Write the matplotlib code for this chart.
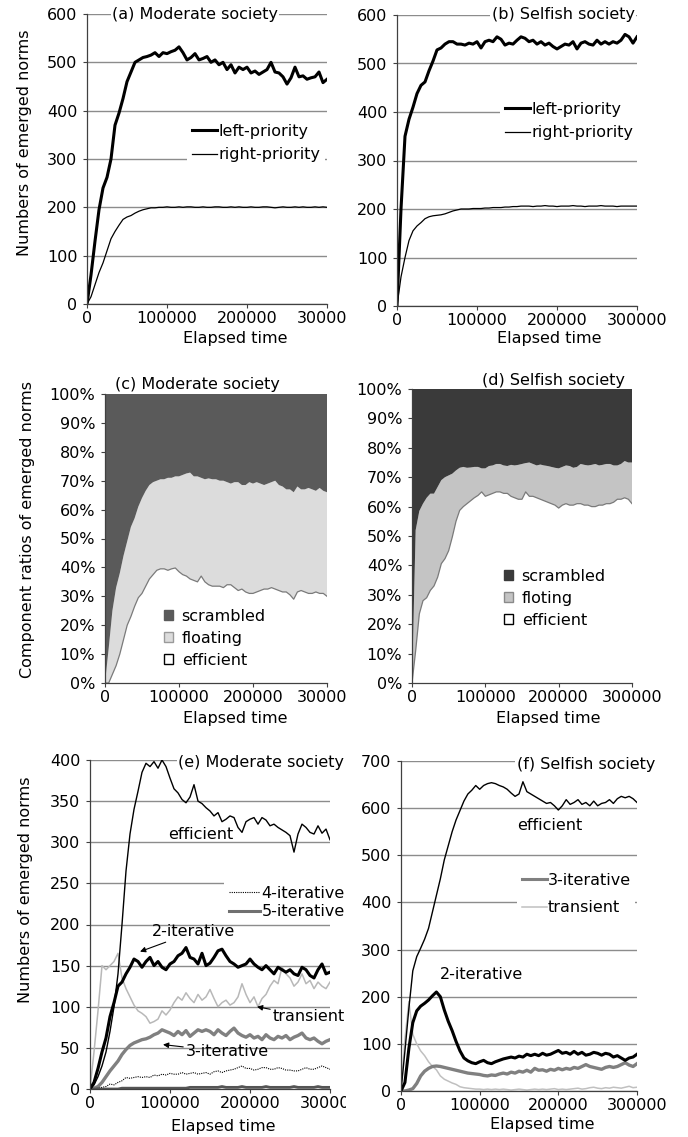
import numpy as np
import matplotlib
matplotlib.use("Agg")
import matplotlib.pyplot as plt
from matplotlib.lines import Line2D
from matplotlib.patches import Patch, Rectangle

plt.rcParams["font.family"] = ["DejaVu Sans"]
plt.rcParams["font.size"] = 11.5

W, H = 688, 1137

# время моделирования, шаг 5000
time = np.arange(0, 300001, 5000)
xticks = [0, 100000, 200000, 300000]

# (a) Moderate society
a_left = [0, 60, 130, 195, 240, 262, 300, 370, 395, 425,
          460, 480, 500, 505, 510, 512, 515, 520, 512, 520,
          518, 522, 525, 532, 520, 505, 510, 518, 505, 508,
          512, 500, 505, 495, 500, 485, 495, 478, 490, 485,
          490, 478, 482, 475, 480, 485, 500, 480, 478, 470,
          455, 468, 490, 470, 472, 465, 468, 470, 480, 458, 465]
a_right = [0, 15, 40, 65, 85, 110, 135, 150, 163, 175,
           180, 183, 188, 192, 195, 197, 199, 199, 200,
           200, 201, 200, 200, 201, 200, 201, 201, 200, 200,
           201, 200, 200, 201, 201, 200, 200, 201, 200, 201,
           200, 200, 201, 200, 200, 201, 201, 200, 199, 200,
           201, 200, 200, 201, 200, 201, 200, 200, 201, 200, 201, 200]

# (b) Selfish society
b_left = [0, 200, 350, 385, 410, 438, 455, 462, 485, 505,
          528, 532, 540, 545, 545, 540, 540, 538, 542, 540,
          545, 532, 545, 548, 545, 555, 550, 538, 542, 540,
          548, 555, 552, 545, 548, 540, 545, 538, 542, 535,
          530, 535, 540, 538, 545, 530, 542, 545, 540, 538,
          548, 540, 545, 540, 545, 542, 548, 560, 555, 542, 555]
b_right = [0, 60, 100, 135, 155, 165, 172, 180, 184, 186,
           187, 188, 190, 193, 196, 198, 200, 200, 200, 201,
           201, 201, 202, 202, 203, 203, 203, 204, 204, 205,
           205, 206, 206,
           206, 205, 206, 206, 207, 206, 206, 205, 206, 206,
           206, 207, 206, 206, 205, 206, 206, 206, 207, 206,
           206, 206, 205, 206, 206, 206, 206, 206]

# (c) Moderate society, доли в %
c_eff = [0, 0, 3, 6, 10, 15, 20, 23, 26.5, 29.5,
         31, 33.5, 36, 37.5, 39, 39.5, 39.5, 39, 39.5, 39.8,
         38.5, 37.5, 37, 36, 35.5, 35, 37, 35, 34, 33.5,
         33.5, 33.5, 33, 34, 34, 33, 32, 32.5, 31.5, 31,
         31, 31.5, 32, 32.5, 32.5, 33, 32.5, 32, 31.5, 31.5,
         30.5, 29, 31.5, 32, 31.5, 31, 31, 31.5, 31, 31, 30]
c_flo = [0, 12, 22, 27, 28, 29, 29, 31, 30.5, 31.5,
         33, 33, 32.5, 32, 31, 31, 31, 32, 31.5, 31.7,
         33, 34.5, 35.5, 36.8, 36, 36.5, 34, 35.5, 36.8, 37,
         37, 36.5, 37, 35.5, 35, 36.5, 37.5, 36, 37, 38.5,
         38, 38, 37, 36, 36.5, 36.5, 37.5, 36.5, 36.5, 35.5,
         36.5, 37, 36.5, 35, 35.5, 36.5, 36, 35, 36.5, 35.5, 36]

# (d) Selfish society, доли в %
d_eff = [0, 11, 23.5, 28, 29, 31.5, 33, 36, 40.6, 42.3,
         45, 49.7, 55, 58.7, 60, 61, 62, 63, 63.8, 65,
         63.5, 64, 64.5, 65, 65, 64.5, 64.5, 63.5, 63, 62.5,
         62.5, 65, 63.5, 63.5, 63, 62.5, 62, 61.5, 61, 60.5,
         59.5, 60.5, 61, 60.5, 60.5, 61, 61, 60.5, 60.5, 60,
         60, 60.5, 60.5, 61, 61, 61.5, 62.5, 62.5, 63, 62.5, 61]
d_flo = [0, 41, 35, 33, 34, 32.9, 31.4, 30.7, 28.4, 27.7,
         25.6, 21.5, 17.3, 14.5, 13.5, 12.2, 11.3, 10.5, 9.7, 8,
         9.5, 9.8, 9.5, 9.5, 9.5, 9.5, 9.3, 10.7, 11, 11.7,
         12, 9.8, 11.5, 11, 11, 11.8, 12, 12.3, 12.5, 12.7,
         13.5, 13, 13, 13.3, 12.7, 12.5, 13.5, 13.7, 13.5, 14.2,
         14.5, 13.5, 13.7, 13.5, 13.5, 12.5, 11.5, 12, 12.5, 12.5, 14]

# (e) Moderate society, по типам норм
e_eff = [0, 5, 15, 28, 45, 70, 100, 140, 200, 265,
         310, 340, 362, 385, 396, 392, 398, 390, 400, 392,
         378, 365, 360, 352, 348, 355, 370, 350, 347, 342,
         338, 332, 336, 325, 328, 332, 330, 318, 312, 325,
         328, 330, 322, 330, 327, 320, 322, 318, 315, 312,
         308, 288, 310, 322, 318, 312, 310, 320, 311, 316, 303]
e_two = [0, 8, 25, 45, 62, 88, 105, 125, 130, 140,
         148, 158, 155, 148, 155, 160, 150, 155, 148, 145,
         152, 155, 162, 165, 172, 160, 158, 152, 165, 150,
         153, 160, 168, 170, 162, 155, 152, 148, 150, 152,
         158, 152, 148, 145, 150, 145, 140, 148, 145, 142,
         145, 140, 138, 148, 145, 138, 135, 145, 152, 140, 142]
e_tran = [0, 45, 95, 150, 145, 150, 155, 165, 135, 122,
          112, 102, 95, 92, 88, 80, 82, 85, 95, 90,
          96, 105, 112, 108, 117, 110, 105, 115, 108, 112,
          121, 110, 100, 105, 108, 102, 105, 112, 128, 115,
          105, 112, 100, 110, 115, 125, 132, 128, 148, 140,
          135, 125, 130, 140, 128, 132, 122, 130, 125, 122, 130]
e_three = [0, 1, 3, 8, 15, 22, 28, 34, 42, 48,
           53, 56, 58, 60, 61, 63, 66, 68, 72, 70,
           68, 65, 70, 66, 71, 64, 68, 72, 70, 72,
           70, 66, 72, 68, 65, 70, 74, 68, 65, 63,
           66, 62, 64, 60, 66, 62, 60, 64, 62, 65,
           60, 63, 65, 68, 62, 60, 62, 58, 55, 58, 60]
e_four = [0, 0, 1, 2, 3, 6, 5, 8, 10, 14,
          13, 14, 15, 14, 15, 14, 17, 16, 18, 17,
          19, 18, 18, 20, 18, 19, 20, 18, 19, 20,
          18, 21, 22, 20, 22, 23, 24, 26, 28, 25,
          25, 23, 24, 26, 26, 24, 24, 26, 25, 23,
          23, 22, 22, 24, 26, 24, 24, 26, 28, 26, 24]
e_five = [0, 0, 0, 0, 0, 0, 0, 0, 1, 1,
          1, 1, 1, 1, 1, 1, 1, 1, 1, 1,
          1, 1, 1, 1, 1, 2, 2, 2, 2, 2,
          2, 2, 2, 3, 2, 2, 2, 2, 3, 2,
          2, 2, 2, 2, 3, 2, 2, 2, 2, 2,
          2, 3, 2, 2, 2, 2, 2, 3, 2, 2, 2]

# (f) Selfish society, по типам норм
f_eff = [0, 85, 175, 255, 285, 303, 322, 345, 380, 415,
         450, 490, 520, 550, 575, 595, 615, 630, 638, 648,
         640, 648, 652, 654, 652, 648, 645, 640, 632, 625,
         630, 656, 635, 630, 625, 620, 615, 610, 612, 605,
         596, 605, 618, 608, 612, 618, 608, 612, 605, 615,
         605, 610, 612, 618, 610, 620, 625, 622, 625, 620, 612]
f_two = [0, 18, 90, 145, 170, 180, 186, 193, 202, 210,
         200, 172, 148, 128, 105, 85, 70, 64, 60, 58,
         62, 65, 60, 58, 62, 65, 68, 70, 72, 70,
         74, 72, 78, 75, 78, 75, 80, 76, 78, 82,
         86, 80, 82, 78, 84, 78, 82, 76, 78, 82,
         80, 76, 80, 78, 72, 75, 70, 65, 70, 72, 78]
f_tran = [0, 110, 190, 120, 100, 85, 75, 62, 52, 45,
          32, 25, 21, 17, 14, 9, 7, 6, 5, 4,
          4, 3, 4, 3, 4, 3, 4, 3, 2, 3,
          4, 3, 2, 3, 4, 3, 4, 3, 4, 5,
          3, 4, 3, 4, 5, 6, 4, 5, 7, 8,
          6, 5, 7, 6, 8, 7, 6, 8, 10, 7, 8]
f_three = [0, 0, 2, 5, 16, 32, 42, 48, 52, 53,
           52, 50, 48, 46, 44, 42, 40, 38, 37, 36,
           35, 33, 32, 34, 33, 36, 38, 36, 40, 38,
           42, 40, 44, 40, 48, 44, 45, 42, 46, 44,
           48, 45, 48, 46, 50, 48, 52, 56, 52, 50,
           48, 46, 50, 52, 50, 52, 56, 60, 55, 52, 58]

for s in [a_left, a_right, b_left, b_right, c_eff, c_flo, d_eff, d_flo,
          e_eff, e_two, e_tran, e_three, e_four, e_five,
          f_eff, f_two, f_tran, f_three]:
    assert len(s) == len(time), len(s)

AX_COL = "#404040"
GRID_COL = "#8c8c8c"


def box(l, t, r, b):
    return [l / W, 1 - b / H, (r - l) / W, (b - t) / H]


def fpt(x, y):
    return (x / W, 1 - y / H)


def setup(ax, ymax, ystep, pct=False, grid=True):
    ax.set_xlim(0, 300000)
    ax.set_ylim(0, ymax)
    ax.set_xticks(xticks)
    ax.set_xticklabels([str(v) for v in xticks])
    yt = list(range(0, ymax + 1, ystep))
    ax.set_yticks(yt)
    ax.set_yticklabels([f"{v}%" if pct else str(v) for v in yt])
    for side in ["top", "right"]:
        ax.spines[side].set_visible(False)
    for side in ["left", "bottom"]:
        ax.spines[side].set_color(AX_COL)
        ax.spines[side].set_linewidth(0.9)
    ax.tick_params(direction="out", length=3, width=0.8, color=AX_COL, labelsize=11.5)
    ax.tick_params(axis="x", pad=2)
    ax.tick_params(axis="y", pad=4)
    if grid:
        ax.yaxis.grid(True, color=GRID_COL, lw=1.0)
        ax.set_axisbelow(True)


def title(text, x, y, white=True):
    kw = {}
    if white:
        kw["bbox"] = dict(facecolor="white", edgecolor="none", pad=1)
    fig.text(*fpt(x, y), text, ha="center", va="center", fontsize=11.5, zorder=6, **kw)


fig = plt.figure(figsize=(W / 100, H / 100), dpi=100)

# ---- (a) ----
ax_a = fig.add_axes(box(87, 14, 327, 304))
setup(ax_a, 600, 100)
ax_a.plot(time, a_left, color="black", lw=2.2, label="left-priority")
ax_a.plot(time, a_right, color="black", lw=0.9, label="right-priority")
ax_a.legend(loc="upper left", bbox_to_anchor=fpt(187, 119), bbox_transform=fig.transFigure,
            frameon=True, facecolor="white", edgecolor="none", framealpha=1, fancybox=False,
            borderpad=0.3, borderaxespad=0, handlelength=1.56, handletextpad=0.1,
            labelspacing=0.52, fontsize=11.5)
title("(a) Moderate society", 195, 15)

# ---- (b) ----
ax_b = fig.add_axes(box(397, 15, 637, 306))
setup(ax_b, 600, 100)
ax_b.plot(time, b_left, color="black", lw=2.2, label="left-priority")
ax_b.plot(time, b_right, color="black", lw=0.9, label="right-priority")
ax_b.legend(loc="upper left", bbox_to_anchor=fpt(500, 97), bbox_transform=fig.transFigure,
            frameon=True, facecolor="white", edgecolor="none", framealpha=1, fancybox=False,
            borderpad=0.3, borderaxespad=0, handlelength=1.56, handletextpad=0.1,
            labelspacing=0.52, fontsize=11.5)
title("(b) Selfish society", 563, 15)

# ---- (c) ----
ax_c = fig.add_axes(box(105, 394, 327, 683))
setup(ax_c, 100, 10, pct=True, grid=False)
c_scr = 100 - np.array(c_eff) - np.array(c_flo)
ax_c.stackplot(time, c_eff, c_flo, c_scr, colors=["white", "#dcdcdc", "#5a5a5a"], lw=0)
ax_c.plot(time, c_eff, color="#7a7a7a", lw=0.9)
hc = [Patch(facecolor="#5a5a5a", edgecolor="#5a5a5a", label="scrambled"),
      Patch(facecolor="#dcdcdc", edgecolor="#9a9a9a", label="floating"),
      Patch(facecolor="white", edgecolor="black", label="efficient")]
ax_c.legend(handles=hc, loc="upper left", bbox_to_anchor=fpt(159, 604), bbox_transform=fig.transFigure,
            frameon=False, borderpad=0.3, borderaxespad=0, handlelength=0.55, handleheight=0.55,
            handletextpad=0.57, labelspacing=0.43, fontsize=11.5)
title("(c) Moderate society", 197, 385, white=False)

# ---- (d) ----
ax_d = fig.add_axes(box(412, 389, 632, 683))
setup(ax_d, 100, 10, pct=True, grid=False)
d_scr = 100 - np.array(d_eff) - np.array(d_flo)
ax_d.stackplot(time, d_eff, d_flo, d_scr, colors=["white", "#c4c4c4", "#3a3a3a"], lw=0)
ax_d.plot(time, d_eff, color="#7a7a7a", lw=0.9)
hd = [Patch(facecolor="#3a3a3a", edgecolor="#3a3a3a", label="scrambled"),
      Patch(facecolor="#c4c4c4", edgecolor="#8a8a8a", label="floting"),
      Patch(facecolor="white", edgecolor="black", label="efficient")]
ax_d.legend(handles=hd, loc="upper left", bbox_to_anchor=fpt(499, 564), bbox_transform=fig.transFigure,
            frameon=False, borderpad=0.3, borderaxespad=0, handlelength=0.55, handleheight=0.55,
            handletextpad=0.57, labelspacing=0.43, fontsize=11.5)
title("(d) Selfish society", 554, 380, white=False)

# ---- (e) ----
ax_e = fig.add_axes(box(90, 760, 330, 1089))
setup(ax_e, 400, 50)
ax_e.plot(time, e_tran, color="#b8b8b8", lw=1.1)
ax_e.plot(time, e_three, color="#808080", lw=2.4)
ax_e.plot(time, e_four, color="black", lw=0.8, ls=(0, (1, 1)))
ax_e.plot(time, e_five, color="#555555", lw=2.0)
ax_e.plot(time, e_eff, color="black", lw=1.0)
ax_e.plot(time, e_two, color="black", lw=2.2)
he = [Line2D([], [], color="black", lw=0.8, ls=(0, (1, 1)), label="4-iterative"),
      Line2D([], [], color="#707070", lw=2.2, label="5-iterative")]
ax_e.legend(handles=he, loc="upper left", bbox_to_anchor=fpt(224, 881), bbox_transform=fig.transFigure,
            frameon=True, facecolor="white", edgecolor="none", framealpha=1, fancybox=False,
            borderpad=0.3, borderaxespad=0, handlelength=1.94, handletextpad=0.1,
            labelspacing=0.21, fontsize=11.5)
arrow = dict(arrowstyle="-|>", color="black", lw=0.8, mutation_scale=8, shrinkA=0, shrinkB=0)
ax_e.text(138750, 309, "efficient", ha="center", va="center", fontsize=11.5)
ax_e.annotate("2-iterative", xy=(62500, 167), xytext=(77500, 191), ha="left", va="center",
              fontsize=11.5, arrowprops=arrow)
ax_e.annotate("transient", xy=(208750, 100), xytext=(228750, 88), ha="left", va="center",
              fontsize=11.5, arrowprops=arrow)
ax_e.annotate("3-iterative", xy=(91250, 54), xytext=(120000, 45), ha="left", va="center",
              fontsize=11.5, arrowprops=arrow)
title("(e) Moderate society", 261, 763)

# ---- (f) ----
ax_f = fig.add_axes(box(401, 761, 637, 1091))
setup(ax_f, 700, 100)
ax_f.plot(time, f_tran, color="#c0c0c0", lw=1.1, label="transient")
ax_f.plot(time, f_three, color="#808080", lw=2.4, label="3-iterative")
ax_f.plot(time, f_eff, color="black", lw=1.0)
ax_f.plot(time, f_two, color="black", lw=2.2)
hf = [Line2D([], [], color="#808080", lw=2.2, label="3-iterative"),
      Line2D([], [], color="#c0c0c0", lw=1.1, label="transient")]
ax_f.legend(handles=hf, loc="upper left", bbox_to_anchor=fpt(517, 868), bbox_transform=fig.transFigure,
            frameon=True, facecolor="white", edgecolor="none", framealpha=1, fancybox=False,
            borderpad=0.3, borderaxespad=0, handlelength=1.56, handletextpad=0.05,
            labelspacing=0.77, fontsize=11.5)
ax_f.text(189400, 564, "efficient", ha="center", va="center", fontsize=11.5)
ax_f.text(101700, 248, "2-iterative", ha="center", va="center", fontsize=11.5)
title("(f) Selfish society", 586, 765)

# подписи осей
for x, y in [(235, 338), (549, 338), (235, 718), (548, 718), (223, 1126), (542, 1125)]:
    fig.text(*fpt(x, y), "Elapsed time", ha="center", va="center", fontsize=11.5)
fig.text(*fpt(25, 143), "Numbers of emerged norms", rotation=90, ha="center", va="center", fontsize=11.5)
fig.text(*fpt(28, 529), "Component ratios of emerged norms", rotation=90, ha="center", va="center", fontsize=11.5)
fig.text(*fpt(26, 890), "Numbers of emerged norms", rotation=90, ha="center", va="center", fontsize=11.5)

# левые подписи 300000 обрезаны соседней панелью, как в оригинале
for y0, y1 in [(307, 334), (686, 713), (1092, 1119)]:
    fig.add_artist(Rectangle((346 / W, 1 - y1 / H), 14 / W, (y1 - y0) / H,
                             transform=fig.transFigure, facecolor="white", edgecolor="none", zorder=10))

fig.savefig("out.png", dpi=100)
